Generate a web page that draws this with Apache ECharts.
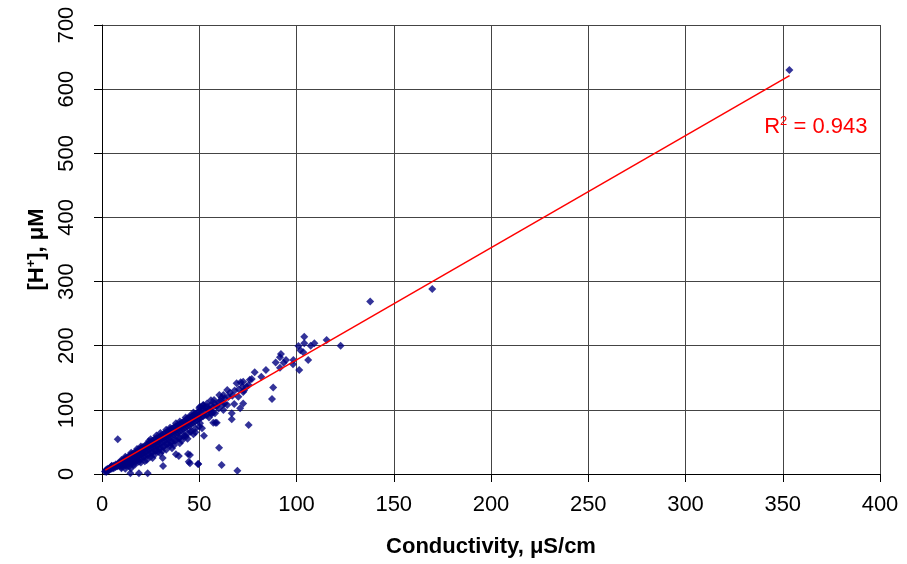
<!DOCTYPE html>
<html>
<head>
<meta charset="utf-8">
<script src="https://cdn.jsdelivr.net/npm/echarts@6/dist/echarts.min.js"></script>
<style>
  html, body { margin: 0; padding: 0; background: #fff; }
  #chart { width: 907px; height: 564px; }
</style>
</head>
<body>
<div id="chart"></div>
<script>
// conductivity (uS/cm) vs [H+] (uM)
var densePoints = [
  [1.5,4],[2,6],[2.2,3],[2.5,7],[3,5],[3,8],[3.5,6],[4,9],[4,7],[4.5,11],[5,8],[5,12],[5,13],[5.5,10],
  [6,13],[6,9],[6.5,12],[7,15],[7,11],[7.5,13],[8,16],[8,12],[8.5,15],[9,18],[9,13],[9.5,16],
  [10,20],[10,14],[10,9],[10,22],[10,11],[10.5,18],[11,22],[11,16],[11.5,19],[12,24],[12,17],[12,8],[12,14],[12,27],[12.5,21],[12.5,13],
  [13,26],[13,20],[13.5,23],[14,28],[14,19],[14,12],[14,16],[14.5,25],[15,30],[15,22],[15,33],[15.5,27],[15.5,17],
  [16,32],[16,24],[16,14],[16,20],[16.5,29],[17,34],[17,25],[17,15],[17.5,31],[17.5,20],[18,36],[18,28],[18,22],[18,39],
  [18.5,33],[19,38],[19,29],[19,19],[19.5,34],[19.5,23],[20,40],[20,31],[20,18],[20,43],[20,25],[20.5,36],[21,42],[21,32],
  [21.5,38],[21.5,26],[22,44],[22,35],[22,20],[22,28],[22.5,40],[23,46],[23,36],[23,22],[23.5,42],[23.5,29],
  [24,48],[24,38],[24,31],[24,51],[24.5,44],[25,50],[25,40],[25,54],[25,27],[25.5,46],[25.5,33],[26,52],[26,42],[26,25],[26,34],[26.5,47],
  [27,54],[27,43],[27,30],[27.5,49],[27.5,36],[28,56],[28,45],[28,37],[28,60],[28.5,51],[29,57],[29,46],[29,35],[29.5,53],[29.5,39],
  [30,59],[30,48],[30,32],[30,64],[30,40],[30.5,55],[31,61],[31,50],[31,36],[31.5,57],[31.5,42],[32,63],[32,52],[32,44],[32.5,58],
  [33,65],[33,54],[33,38],[33,69],[33.5,60],[33.5,46],[34,67],[34,55],[34,47],[34.5,62],[35,69],[35,57],[35,72],[35,44],[35.5,64],[35.5,49],
  [36,71],[36,59],[36,40],[36,50],[36.5,66],[37,73],[37,61],[37,45],[37.5,68],[37.5,52],[38,75],[38,63],[38,53],[38,79],[38.5,70],
  [39,76],[39,64],[39.5,72],[39.5,56],[40,78],[40,66],[40,48],[40,82],[40,56],[40.5,74],[41,80],[41,68],[41,52],[41.5,75],
  [42,82],[42,70],[42,59],[42.5,77],[42.5,60],[43,84],[43,72],[43,58],[43,88],[43.5,79],[44,86],[44,74],[44,55],[44,63],[44.5,81],
  [45,88],[45,76],[45,90],[45.5,83],[45.5,66],[46,90],[46,78],[46,67],[46.5,85],[47,92],[47,80],[47,62],[47,96],[47.5,87],
  [48,94],[48,82],[48,65],[48,71],[48.5,89],[49,96],[49,84],[49.5,91],[50,98],[50,86],[50,103],[50,74],[50.5,93],
  [51,100],[51,88],[52,102],[52,90],[52,107],[53,104],[53,92],[53,97],[54,105],[55,100],[55,101],[55,88],
  [56,108],[56,96],[57,104],[57,96],[58,110],[59,106],[60,112],[60,102],[61,114],[62,108],[63,118],
  [63,110],[65,120],[67,122]
];

var sparsePoints = [
  [8.1,54],[14.6,1],[14.9,8.9],[19,1],[23.5,1],[31.2,25],[31.4,12.5],[38,30.7],[39.5,28],
  [44.2,31.2],[44.6,19.2],[45.2,29.6],[45.2,16.7],[49.4,15.6],[49.5,15.6],[50.4,79],[51.4,71.2],
  [52.4,59.8],[52.1,107.6],[50.4,105],[54,110],[54,92],[56,115],[56.4,93.5],[57.2,80],[57.6,115.4],
  [58.1,94.6],[58.3,80],[59,80],[60.2,41],[60.3,123],[61.5,119],[61.5,14],[62.4,123],[62.4,99.8],
  [64.4,131],[64.4,107.6],[65.8,126.8],[66.7,94.6],[66.7,85.3],[68,109],[68.2,130],[69.2,141.4],
  [69.6,5.2],[70.1,120.5],[70.3,132],[71,102.4],[71.3,143],[72.3,136],[72.6,144],[72.6,128],
  [72.6,110],[73,130],[74.4,136],[75.4,138.8],[75.4,76.4],[76,147],[77,148],[78.5,158.6],
  [81.9,151.7],[84.3,162],[87.4,117],[88,135],[89.3,174],[91.5,182],[91.5,165.8],[92,187],
  [93.4,173.6],[94.6,177.7],[98.2,171],[98.4,177.7],[101,199.6],[101.4,162],[102,193],[103.5,189.7],
  [104,214],[104,204],[106,177.7],[107.3,200],[109.2,204],[115.5,209],[122.7,200],[137.9,268.8],
  [169.8,288.6],[353.4,630]
];

var trendX = [1.7, 353.5];
var trendY = [6, 621];
var rSquared = '0.943';
var rLabelAt = [367, 541];

var xTicks = { min: 0, max: 400, step: 50 };
var yTicks = { min: 0, max: 700, step: 100 };

var chart = echarts.init(document.getElementById('chart'));
var font = 'Liberation Sans, Arial, sans-serif';

var allPoints = densePoints.concat(sparsePoints);
var trendData = trendX.map(function (x, i) { return [x, trendY[i]]; });

chart.setOption({
  backgroundColor: '#fff',
  animation: false,
  textStyle: { fontFamily: font },
  grid: { left: 102, right: 27, top: 25, bottom: 90 },
  xAxis: {
    type: 'value',
    min: xTicks.min, max: xTicks.max, interval: xTicks.step,
    name: 'Conductivity, \u03bcS/cm',
    nameLocation: 'middle',
    nameGap: 62,
    nameTextStyle: { fontSize: 22, fontWeight: 'bold', color: '#000', fontFamily: font },
    axisLine: { show: true, lineStyle: { color: '#000', width: 1 } },
    axisTick: { show: true, length: 8, lineStyle: { color: '#000' } },
    axisLabel: { fontSize: 22, color: '#000', margin: 20, fontFamily: font },
    splitLine: { show: true, lineStyle: { color: '#444', width: 1 } }
  },
  yAxis: {
    type: 'value',
    min: yTicks.min, max: yTicks.max, interval: yTicks.step,
    name: '{b|[H}{s|+}{b|], \u03bcM}',
    nameLocation: 'middle',
    nameGap: 48,
    nameTextStyle: {
      color: '#000', fontFamily: font,
      rich: {
        b: { fontSize: 22, fontWeight: 'bold', color: '#000', fontFamily: font, lineHeight: 24 },
        s: { fontSize: 13, fontWeight: 'bold', color: '#000', fontFamily: font, verticalAlign: 'top', lineHeight: 24 }
      }
    },
    axisLine: { show: true, lineStyle: { color: '#000', width: 1 } },
    axisTick: { show: true, length: 8, lineStyle: { color: '#000' } },
    axisLabel: { fontSize: 22, color: '#000', rotate: 90, margin: 24, fontFamily: font },
    splitLine: { show: true, lineStyle: { color: '#444', width: 1 } }
  },
  series: [
    {
      type: 'scatter',
      data: allPoints,
      symbol: 'diamond',
      symbolSize: [8, 8],
      itemStyle: { color: '#000080' },
      z: 2
    },
    {
      type: 'line',
      data: trendData,
      showSymbol: false,
      symbol: 'none',
      lineStyle: { color: '#ff0000', width: 1.5 },
      z: 3,
      markPoint: {
        symbol: 'circle',
        symbolSize: 1,
        itemStyle: { color: 'rgba(0,0,0,0)' },
        data: [{ coord: rLabelAt }],
        label: {
          show: true,
          position: 'inside',
          formatter: '{a|R}{s|2}{a| = ' + rSquared + '}',
          rich: {
            a: { fontSize: 22, color: '#ff0000', fontFamily: font, lineHeight: 24 },
            s: { fontSize: 13, color: '#ff0000', fontFamily: font, verticalAlign: 'top', lineHeight: 24 }
          }
        }
      }
    }
  ]
});
</script>
</body>
</html>
